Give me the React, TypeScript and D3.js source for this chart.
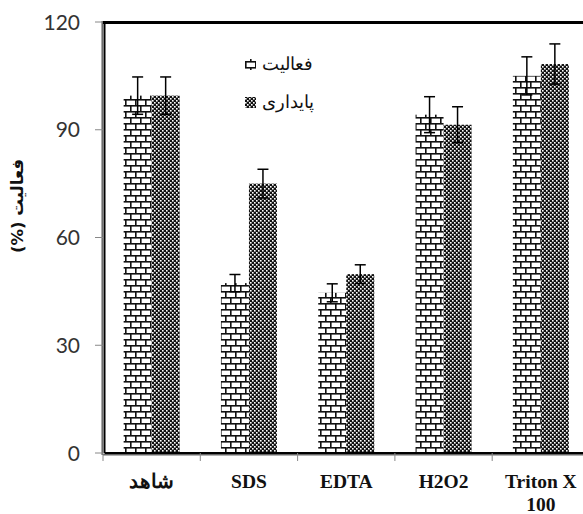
import * as d3 from 'd3';

// categories and values
const categories = ['شاهد', 'SDS', 'EDTA', 'H2O2', 'Triton X 100'];
const activity = [99.5, 47.3, 44.6, 94.2, 105];
const activityErr = [5.2, 2.4, 2.5, 5, 5.3];
const stability = [99.5, 75, 49.8, 91.4, 108.3];
const stabilityErr = [5.2, 4, 2.6, 5, 5.6];
const yTicks = [0, 30, 60, 90, 120];
const seriesNames = ['فعالیت', 'پایداری'];

const W = 583;
const H = 514;

const App = () => {
  const margin = { top: 22, left: 103, bottom: 61 };
  const bandW = 97.3;
  const x = d3
    .scaleBand<string>()
    .domain(categories)
    .range([margin.left, margin.left + bandW * categories.length])
    .paddingInner(0)
    .paddingOuter(0);
  const y = d3.scaleLinear().domain([0, 120]).range([H - margin.bottom, margin.top]);
  const barW = 28;

  const series = [
    { vals: activity, errs: activityErr, fill: 'url(#brick)', off: -barW },
    { vals: stability, errs: stabilityErr, fill: 'url(#weave)', off: 0 },
  ];

  const y0 = y(0);

  return (
    <svg width={W} height={H} style={{ position: 'absolute', left: 0, top: 0 }}>
      <defs>
        <pattern id="brick" patternUnits="userSpaceOnUse" width="10" height="12" x="0" y={y0}>
          <rect width="10" height="12" fill="#fff" />
          <rect x="0" y="0" width="10" height="1.6" fill="#111" />
          <rect x="0" y="6" width="10" height="1.6" fill="#111" />
          <rect x="0" y="0" width="1.6" height="6" fill="#111" />
          <rect x="5" y="6" width="1.6" height="6" fill="#111" />
        </pattern>
        <pattern id="weave" patternUnits="userSpaceOnUse" width="4" height="4">
          <rect width="4" height="4" fill="#111" />
          <rect x="0" y="0" width="1.6" height="1.6" fill="#fff" />
          <rect x="2" y="2" width="1.6" height="1.6" fill="#fff" />
        </pattern>
      </defs>
      <rect width={W} height={H} fill="#fff" />

      {/* bars */}
      {series.map((s, si) => (
        <g key={si}>
          {categories.map((c, i) => {
            const cx = (x(c) as number) + x.bandwidth() / 2 + s.off;
            return (
              <rect
                key={c}
                x={cx}
                y={y(s.vals[i])}
                width={barW}
                height={y0 - y(s.vals[i])}
                fill={s.fill}
              />
            );
          })}
        </g>
      ))}

      {/* error bars */}
      {series.map((s, si) => (
        <g key={'e' + si} stroke="#000" strokeWidth={1.5}>
          {categories.map((c, i) => {
            const cx = (x(c) as number) + x.bandwidth() / 2 + s.off + barW / 2;
            const hi = y(s.vals[i] + s.errs[i]);
            const lo = y(s.vals[i] - s.errs[i]);
            return (
              <g key={c}>
                <line x1={cx} x2={cx} y1={hi} y2={lo} />
                <line x1={cx - 5.5} x2={cx + 5.5} y1={hi} y2={hi} />
                <line x1={cx - 5.5} x2={cx + 5.5} y1={lo} y2={lo} />
              </g>
            );
          })}
        </g>
      ))}

      {/* frame: top border and axes */}
      <line x1={margin.left} x2={W} y1={y(120) + 0.5} y2={y(120) + 0.5} stroke="#000" strokeWidth={3} />
      <line x1={margin.left - 0.8} x2={margin.left - 0.8} y1={y(120) - 1} y2={y0 + 2} stroke="#666" strokeWidth={1.5} />
      <line x1={margin.left + 1.5} x2={margin.left + 1.5} y1={y(120) - 1} y2={y0} stroke="#000" strokeWidth={2} />
      <line x1={margin.left} x2={W} y1={y0 + 1.8} y2={y0 + 1.8} stroke="#666" strokeWidth={1.5} />
      <line x1={margin.left + 1.5} x2={W} y1={y0} y2={y0} stroke="#000" strokeWidth={2} />

      {/* y ticks */}
      {yTicks.map((t) => (
        <g key={t}>
          <line x1={95} x2={margin.left} y1={y(t)} y2={y(t)} stroke="#888" strokeWidth={1} />
          <text
            x={80}
            y={y(t)}
            dy="0.36em"
            textAnchor="end"
            fontFamily="Lato, 'Noto Sans', sans-serif"
            fontSize={21}
            fill="#333"
          >
            {t}
          </text>
        </g>
      ))}

      {/* x ticks */}
      {categories.map((c) => (
        <line
          key={c}
          x1={x(c) as number}
          x2={x(c) as number}
          y1={y0}
          y2={y0 + 8}
          stroke="#888"
          strokeWidth={1}
        />
      ))}

      {/* x labels */}
      {categories.map((c) => {
        const cx = (x(c) as number) + x.bandwidth() / 2;
        const lines = c === 'Triton X 100' ? ['Triton X', '100'] : [c];
        return (
          <text
            key={c}
            x={cx}
            y={488}
            textAnchor="middle"
            fontFamily="'Liberation Serif', 'Times New Roman', serif"
            fontWeight="bold"
            fontSize={19.5}
            fill="#111"
          >
            {lines.map((l, li) => (
              <tspan key={li} x={cx} dy={li === 0 ? 0 : 23}>
                {l}
              </tspan>
            ))}
          </text>
        );
      })}

      {/* y axis title */}
      <text
        transform="translate(23,206) rotate(-90)"
        textAnchor="middle"
        direction="rtl"
        fontFamily="'DejaVu Sans', 'Liberation Sans', sans-serif"
        fontWeight="bold"
        fontSize={16.5}
        fill="#111"
      >
        فعالیت (%)
      </text>

      {/* legend */}
      {seriesNames.map((n, i) => (
        <g key={n} transform={`translate(245,${64 + i * 38})`}>
          <rect x={0} y={-5} width={11} height={11} fill={i === 0 ? 'url(#brick)' : 'url(#weave)'} />
          <text
            x={17}
            y={0}
            dy="0.35em"
            fontFamily="'Liberation Sans', Arial, sans-serif"
            fontSize={17.5}
            fill="#111"
          >
            {n}
          </text>
        </g>
      ))}
    </svg>
  );
};

export default App;
